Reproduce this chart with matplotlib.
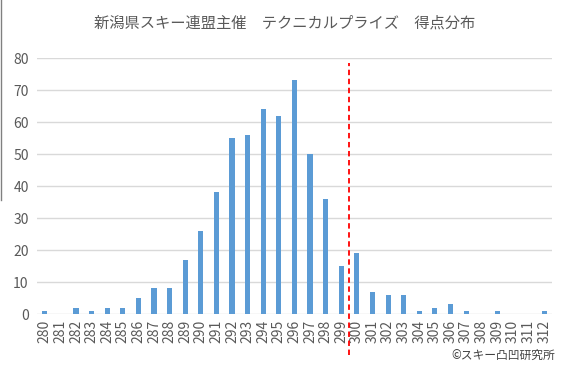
import matplotlib
matplotlib.use('Agg')
import matplotlib.pyplot as plt
from matplotlib.lines import Line2D

plt.rcParams['font.family'] = ['Noto Sans CJK JP', 'DejaVu Sans']

# score distribution
scores = list(range(280, 313))
counts = [1, 0, 2, 1, 2, 2, 5, 8, 8, 17, 26, 38, 55, 56, 64, 62, 73, 50, 36, 15,
          19, 7, 6, 6, 1, 2, 3, 1, 0, 1, 0, 0, 1]
pass_line = 299.5
title = '新潟県スキー連盟主催　テクニカルプライズ　得点分布'
credit = '©スキー凸凹研究所'

fig = plt.figure(figsize=(5.69, 3.77), dpi=100)
ax = fig.add_axes([0.065, 0.167, 0.905, 0.679])

ax.bar(scores, counts, width=0.33, color='#5B9BD5', zorder=3)
ax.set_xlim(279.5, 312.5)
ax.set_ylim(0, 80)
ax.set_yticks(range(0, 81, 10))
ax.set_xticks(scores)
ax.set_xticklabels([str(s) for s in scores], rotation=90)
ax.tick_params(axis='both', length=0, colors='#595959', labelsize=10)
ax.tick_params(axis='x', pad=4)
ax.tick_params(axis='y', pad=6)
ax.grid(axis='y', color='#D9D9D9', linewidth=1, zorder=0)
for s in ax.spines.values():
    s.set_visible(False)

# dashed line between 299 and 300, extends below the axis
ax.plot([pass_line, pass_line], [-12.8, 78.5], color='#FF0000', linestyle=(0, (3, 2)),
        linewidth=1.3, clip_on=False, zorder=4)

fig.text(0.5, 0.94, title, ha='center', va='center', fontsize=11, color='#595959')
fig.text(0.975, 0.058, credit, ha='right', va='center', fontsize=8.5, color='#404040')

# left border remnant
fig.add_artist(Line2D([0.001, 0.001], [1.0, 0.47], transform=fig.transFigure,
                      color='#808080', linewidth=1))

fig.savefig('out.png', dpi=100)
